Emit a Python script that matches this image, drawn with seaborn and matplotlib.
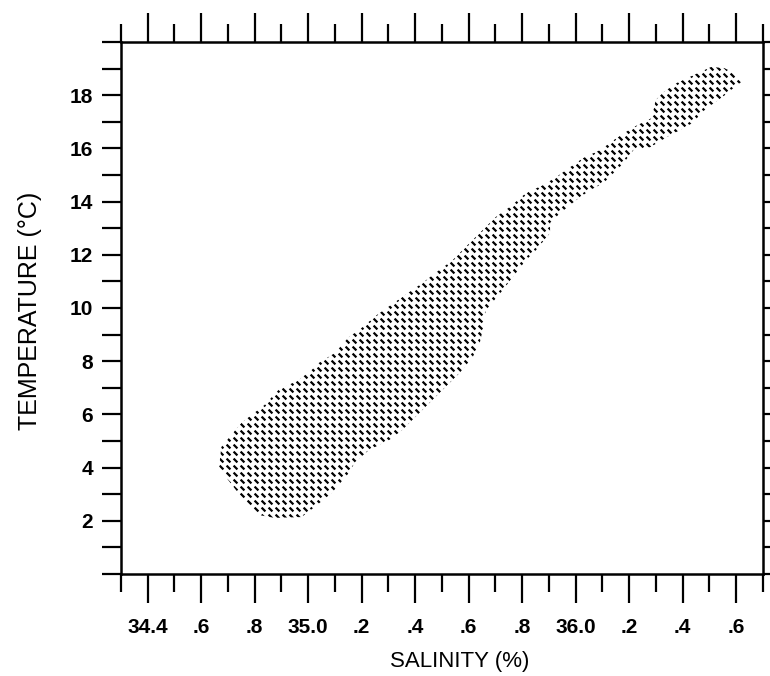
import numpy as np
import matplotlib
matplotlib.use("Agg")
import matplotlib.pyplot as plt
from matplotlib.patches import Polygon
from matplotlib.ticker import MultipleLocator
import seaborn as sns

# Outline of the T-S envelope (salinity %, temperature degC), traced counter-clockwise
salinity_edge = [
    34.814, 34.874, 34.975, 35.024, 35.088, 35.152, 35.175, 35.227, 35.303, 35.351,
    35.464, 35.513, 35.566, 35.615, 35.641, 35.652, 35.664, 35.728, 35.765, 35.814,
    35.852, 35.904, 35.904, 35.942, 36.002, 36.055, 36.104, 36.179, 36.216, 36.280,
    36.341, 36.405, 36.442, 36.468, 36.506, 36.544, 36.581, 36.619, 36.593, 36.555,
    36.506, 36.442, 36.378, 36.329, 36.299, 36.284, 36.216, 36.153, 36.092, 36.028,
    35.980, 35.927, 35.878, 35.814, 35.754, 35.701, 35.652, 35.603, 35.540, 35.476,
    35.427, 35.351, 35.257, 35.190, 35.152, 35.100, 35.039, 35.013, 34.964, 34.889,
    34.836, 34.750, 34.675, 34.667, 34.701, 34.738, 34.776,
]
temperature_edge = [
    2.22, 2.11, 2.14, 2.52, 3.05, 3.80, 4.21, 4.66, 5.04, 5.41,
    6.54, 7.03, 7.56, 8.16, 8.68, 9.17, 9.92, 10.68, 11.17, 11.80,
    12.18, 12.82, 13.20, 13.57, 14.06, 14.44, 14.70, 15.45, 15.94, 16.05,
    16.43, 16.77, 16.99, 17.33, 17.63, 17.89, 18.20, 18.50, 18.83, 19.02,
    19.06, 18.76, 18.46, 18.12, 17.82, 17.14, 16.80, 16.39, 15.94, 15.64,
    15.30, 14.92, 14.62, 14.32, 13.80, 13.42, 12.93, 12.44, 11.80, 11.32,
    10.94, 10.41, 9.74, 9.17, 8.91, 8.31, 7.93, 7.67, 7.29, 6.92,
    6.35, 5.68, 4.77, 4.02, 3.53, 3.05, 2.59,
]

sal_ticks = [34.4, 34.6, 34.8, 35.0, 35.2, 35.4, 35.6, 35.8, 36.0, 36.2, 36.4, 36.6]
sal_tick_labels = ["34.4", ".6", ".8", "35.0", ".2", ".4", ".6", ".8", "36.0", ".2", ".4", ".6"]
temp_ticks = [0, 2, 4, 6, 8, 10, 12, 14, 16, 18, 20]
temp_tick_labels = ["", "2", "4", "6", "8", "10", "12", "14", "16", "18", ""]

sns.set_theme(style="ticks")
plt.rcParams["font.family"] = ["Liberation Sans", "DejaVu Sans"]
plt.rcParams.update({
    "text.color": "black", "axes.labelcolor": "black",
    "xtick.color": "black", "ytick.color": "black", "axes.edgecolor": "black",
})

fig = plt.figure(figsize=(7.7, 6.76), dpi=100)
ax = fig.add_axes([0.1571, 0.1509, 0.8338, 0.787])
ax.set_xlim(34.3, 36.7)
ax.set_ylim(0, 20)

# Envelope used as clip region for the dash texture
region = Polygon(np.column_stack([salinity_edge, temperature_edge]), closed=True,
                 facecolor="none", edgecolor="none")
ax.add_patch(region)

# Dash texture: a regular grid in screen pixels mapped back into data space
(x0, y0), (x1, y1) = ax.transData.transform([(34.3, 0), (36.7, 20)])
step = 7.0
gx, gy = np.meshgrid(np.arange(x0 + 2, x1, step), np.arange(y0 + 2, y1, step))
grid = ax.transData.inverted().transform(np.column_stack([gx.ravel(), gy.ravel()]))
sns.scatterplot(x=grid[:, 0], y=grid[:, 1], marker=(2, 0, 45), s=15,
                color="black", edgecolor="black", linewidth=1.6, ax=ax, legend=False)
dashes = ax.collections[-1]
dashes.set_clip_path(region)

for side in ["left", "right", "top", "bottom"]:
    ax.spines[side].set_visible(True)
    ax.spines[side].set_linewidth(1.8)

ax.set_xticks(sal_ticks, sal_tick_labels)
ax.xaxis.set_minor_locator(MultipleLocator(0.1))
ax.set_yticks(temp_ticks, temp_tick_labels)
ax.yaxis.set_minor_locator(MultipleLocator(1))

ax.tick_params(axis="x", which="major", direction="out", length=21, width=1.6,
               top=True, bottom=True, labelsize=15, pad=11)
ax.tick_params(axis="x", which="minor", direction="out", length=13, width=1.6,
               top=True, bottom=True)
ax.tick_params(axis="y", which="both", direction="out", length=14, width=1.6,
               left=True, right=True, labelsize=15, pad=6)
for lab in ax.get_xticklabels() + ax.get_yticklabels():
    lab.set_fontweight("bold")

ax.set_xlabel("SALINITY (%)", fontsize=16)
ax.xaxis.set_label_coords(0.527, -0.165)
ax.xaxis.label.set_verticalalignment("center")
ax.set_ylabel("TEMPERATURE (\u00b0C)", fontsize=18)
ax.yaxis.set_label_coords(-0.142, 0.494)
ax.yaxis.label.set_verticalalignment("center")

fig.savefig("out.png", dpi=100, facecolor="white")
